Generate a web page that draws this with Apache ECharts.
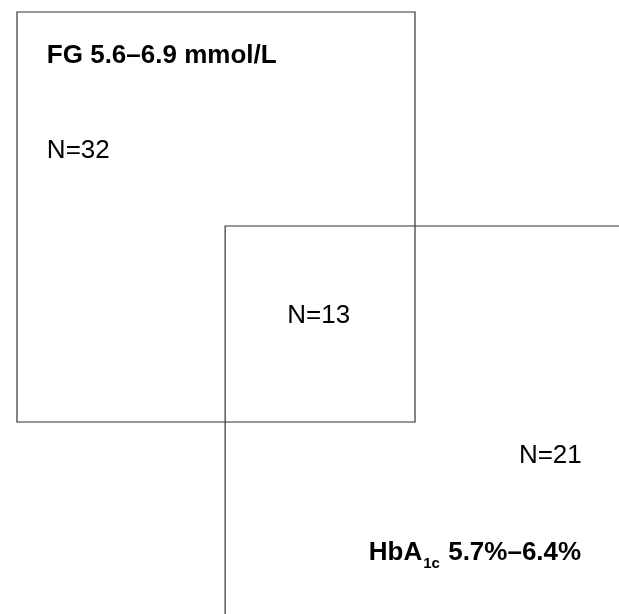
<!DOCTYPE html>
<html>
<head>
<meta charset="utf-8">
<script src="https://cdn.jsdelivr.net/npm/echarts@6/dist/echarts.min.js"></script>
<style>
  html, body { margin: 0; padding: 0; background: #fff; }
  #main { width: 619px; height: 614px; }
</style>
</head>
<body>
<div id="main"></div>
<script>
// two overlapping groups, each drawn as a square of side 100 units
var groupNames = ['FG', 'HbA1c'];
var boxX0 = [0, 52.3];
var boxY0 = [0, 52.2];
var boxSide = [100, 100];

// counts per region: FG only, both, HbA1c only
var regionCounts = [32, 13, 21];
var countX = [7.5, 75.8, 126.1];
var countY = [33.9, 74.2, 108.3];

var titleX = [7.5, 88.4];
var titleY = [10.8, 132.0];

var chart = echarts.init(document.getElementById('main'));

var boxData = groupNames.map(function (n, i) {
  return [boxX0[i], boxY0[i], boxX0[i] + boxSide[i], boxY0[i] + boxSide[i]];
});

function textItem(x, y, text, bold, align) {
  return { value: [x, y], text: text, bold: bold, align: align };
}

var texts = [
  textItem(titleX[0], titleY[0], '{b|FG 5.6–6.9 mmol/L}', true, 'left'),
  textItem(countX[0], countY[0], 'N=' + regionCounts[0], false, 'left'),
  textItem(countX[1], countY[1], 'N=' + regionCounts[1], false, 'center'),
  textItem(countX[2], countY[2], 'N=' + regionCounts[2], false, 'left'),
  textItem(titleX[1], titleY[1], '{b|HbA}{s|1c}{b| 5.7%–6.4%}', true, 'left')
];

var FONT = '"Liberation Sans", Arial, sans-serif';

var option = {
  animation: false,
  backgroundColor: '#fff',
  grid: { left: 17, top: 12, width: 398, height: 410 },
  xAxis: { type: 'value', min: 0, max: 100, show: false },
  yAxis: { type: 'value', min: 0, max: 100, inverse: true, show: false },
  series: [
    {
      type: 'custom',
      clip: false,
      data: boxData,
      renderItem: function (params, api) {
        var p0 = api.coord([api.value(0), api.value(1)]);
        var p1 = api.coord([api.value(2), api.value(3)]);
        return {
          type: 'rect',
          shape: { x: p0[0], y: p0[1], width: p1[0] - p0[0], height: p1[1] - p0[1] },
          style: { fill: 'none', stroke: '#333', lineWidth: 1.2 }
        };
      }
    },
    {
      type: 'custom',
      clip: false,
      data: texts,
      renderItem: function (params, api) {
        var d = texts[params.dataIndex];
        var p = api.coord([api.value(0), api.value(1)]);
        return {
          type: 'text',
          x: p[0], y: p[1],
          style: {
            text: d.text,
            fill: '#000',
            font: (d.bold ? 'bold ' : '') + '26px ' + FONT,
            align: d.align,
            verticalAlign: 'middle',
            rich: {
              b: { fontWeight: 'bold', fontSize: 26, fontFamily: FONT, lineHeight: 30 },
              s: { fontWeight: 'bold', fontSize: 15, fontFamily: FONT, lineHeight: 30, verticalAlign: 'bottom', padding: [0, 1, -3, 1] }
            }
          }
        };
      }
    }
  ]
};

chart.setOption(option);
</script>
</body>
</html>
